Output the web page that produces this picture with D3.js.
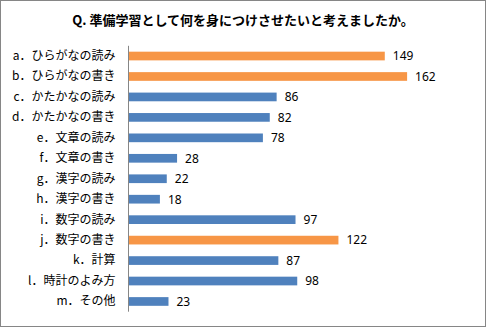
<!DOCTYPE html>
<html><head><meta charset="utf-8">
<script src="https://cdn.jsdelivr.net/npm/d3@7"></script>
<style>body{margin:0;background:#fff}svg{display:block}</style>
</head><body>
<script>
const title = "Q. 準備学習として何を身につけさせたいと考えましたか。";
const categories = ["a．ひらがなの読み","b．ひらがなの書き","c．かたかなの読み","d．かたかなの書き","e．文章の読み","f．文章の書き","g．漢字の読み","h．漢字の書き","i．数字の読み","j．数字の書き","k．計算","l．時計のよみ方","m．その他"];
const values = [149,162,86,82,78,28,22,18,97,122,87,98,23];
const highlighted = [true,true,false,false,false,false,false,false,false,true,false,false,false];

const W=486,H=327;
const svg=d3.select("body").append("svg").attr("width",W).attr("height",H);
svg.append("rect").attr("x",0.5).attr("y",0.5).attr("width",W-1).attr("height",H-1).attr("fill","#fff").attr("stroke","#868686");
const font="'Noto Sans CJK JP','Noto Sans',sans-serif";
svg.append("text").attr("x",243).attr("y",25).attr("text-anchor","middle")
  .attr("font-family",font).attr("font-size",13).attr("font-weight","bold").text(title);

const x=d3.scaleLinear().domain([0,180]).range([129,438]);
const y=d3.scaleBand().domain(categories).range([45.8,311.7]).paddingInner(0.575).paddingOuter(0.2875);

const g=svg.append("g");
g.selectAll("rect.bar").data(values).join("rect").attr("class","bar")
  .attr("x",x(0)).attr("y",(d,i)=>y(categories[i]))
  .attr("width",d=>x(d)-x(0)).attr("height",y.bandwidth())
  .attr("fill",(d,i)=>highlighted[i]?"#F79646":"#4F81BD");
g.selectAll("text.val").data(values).join("text").attr("class","val")
  .attr("x",d=>x(d)+8).attr("y",(d,i)=>y(categories[i])+y.bandwidth()/2)
  .attr("dy","0.36em").attr("font-family","'Noto Sans',sans-serif").attr("font-size",12)
  .attr("fill","#000").text(d=>d);

const axis=d3.axisLeft(y).tickSize(0).tickPadding(13);
const ag=svg.append("g").attr("transform",`translate(${x(0)-0.5},0)`).call(axis);
ag.select(".domain").attr("stroke","#868686").attr("d",`M0,45.8V311.7`);
ag.selectAll("text").attr("font-family",font).attr("font-size",12).attr("fill","#000");
</script>
</body></html>
